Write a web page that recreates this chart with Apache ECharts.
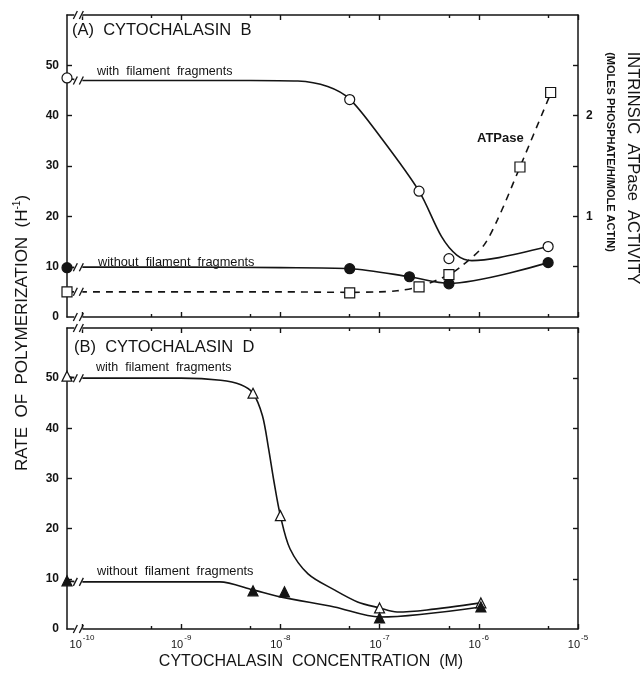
<!DOCTYPE html>
<html><head><meta charset="utf-8">
<script src="https://cdn.jsdelivr.net/npm/echarts@6/dist/echarts.min.js"></script>
<style>html,body{margin:0;padding:0;background:#fff}#c{width:643px;height:677px}</style>
</head><body><div id="c"></div>
<script>
// ---- axis data ----
const CTRL = 7.07e-11;          // zero-concentration controls, plotted on the left axis
const BREAK_X = 9.2e-11;        // where the "//" axis break sits
const X_MAX = 1e-5;
const xDecades = [1e-10, 1e-9, 1e-8, 1e-7, 1e-6, 1e-5];
const xFives = [5e-10, 5e-9, 5e-8, 5e-7, 5e-6];
const xTickExponents = ['-10', '-9', '-8', '-7', '-6', '-5'];
const yLeftTicks = [10, 20, 30, 40, 50];
const yLeftLabels = [0, 10, 20, 30, 40, 50];
const yRightTicksA = [0.5, 1, 1.5, 2, 2.5];
const yRightLabelsA = [1, 2];

// ---- Panel A: cytochalasin B ----
const aWithCurveX = [CTRL, 1e-10, 1e-9, 5e-9, 1.5e-8, 3e-8, 5e-8, 1e-7, 2.5e-7, 4.2e-7, 6e-7, 8.5e-7, 1.6e-6, 5e-6];
const aWithCurveY = [47.5, 47, 47, 47, 46.9, 45.8, 43.3, 36, 25, 16, 12.3, 11.2, 11.8, 14];
const aWithPtsX = [CTRL, 5e-8, 2.5e-7, 5e-7, 5e-6];
const aWithPtsY = [47.5, 43.2, 25, 11.6, 14];

const aWithoutCurveX = [CTRL, 1e-10, 1e-9, 1e-8, 5e-8, 2e-7, 5e-7, 5e-6];
const aWithoutCurveY = [9.8, 9.9, 9.9, 9.8, 9.6, 8.0, 6.7, 10.8];
const aWithoutPtsX = [CTRL, 5e-8, 2e-7, 5e-7, 5e-6];
const aWithoutPtsY = [9.8, 9.6, 8.0, 6.6, 10.8];

// ATPase (right axis, moles phosphate / h / mole actin)
const atpCurveX = [CTRL, 1e-10, 1e-9, 1e-8, 5e-8, 1e-7, 1.5e-7, 2.5e-7, 5e-7, 6.6e-7, 1.1e-6, 1.55e-6, 2.6e-6, 5.3e-6];
const atpCurveY = [0.25, 0.25, 0.25, 0.25, 0.245, 0.25, 0.26, 0.30, 0.42, 0.50, 0.70, 0.97, 1.49, 2.22];
const atpPtsX = [CTRL, 5e-8, 2.5e-7, 5e-7, 2.6e-6, 5.3e-6];
const atpPtsY = [0.25, 0.24, 0.30, 0.42, 1.49, 2.23];

// ---- Panel B: cytochalasin D ----
const bWithCurveX = [CTRL, 1e-10, 1e-9, 2.5e-9, 4e-9, 5.3e-9, 6.6e-9, 7.6e-9, 8.6e-9, 1e-8, 1.25e-8, 1.9e-8, 3.5e-8, 6e-8, 1e-7, 1.5e-7, 3e-7, 1.05e-6];
const bWithCurveY = [50.3, 50, 50, 49.6, 48.7, 47, 42.5, 36, 29.5, 22.6, 16, 11, 7.8, 5.4, 4.2, 3.4, 3.8, 5.2];
const bWithPtsX = [CTRL, 5.3e-9, 1e-8, 1e-7, 1.05e-6];
const bWithPtsY = [50.4, 47, 22.6, 4.2, 5.2];

const bWithoutCurveX = [CTRL, 1e-10, 1e-9, 2.45e-9, 5.3e-9, 1e-8, 3.5e-8, 1e-7, 1.05e-6];
const bWithoutCurveY = [9.6, 9.4, 9.4, 9.4, 7.8, 6.4, 4.4, 2.4, 4.4];
const bWithoutPtsX = [CTRL, 5.3e-9, 1.1e-8, 1e-7, 1.05e-6];
const bWithoutPtsY = [9.6, 7.6, 7.4, 2.2, 4.4];

// ---- build ----
const FONT = 'Liberation Sans, Arial, Helvetica, sans-serif';
const INK = '#141414';
const L = Math.log10;
const pts = (xs, ys) => xs.map((x, i) => [L(x), ys[i]]);
const XMIN = L(CTRL), XMAX = L(X_MAX);

function xAxis(grid, pos, ticks, len, opts) {
  return Object.assign({
    type: 'value', gridIndex: grid, position: pos, min: XMIN, max: XMAX,
    axisLine: { show: true, onZero: false, lineStyle: { color: INK, width: 1.5 } },
    axisTick: { show: true, inside: true, length: len, customValues: ticks.map(L), lineStyle: { color: INK, width: 1.4 } },
    axisLabel: { show: false },
    splitLine: { show: false }
  }, opts || {});
}
function yAxis(grid, pos, min, max, interval, ticks, labels, extra) {
  return Object.assign({
    type: 'value', gridIndex: grid, position: pos, min: min, max: max, interval: interval,
    axisLine: { show: true, onZero: false, lineStyle: { color: INK, width: 1.5 } },
    axisTick: { show: true, inside: true, length: 5, customValues: ticks, lineStyle: { color: INK, width: 1.4 } },
    axisLabel: labels ? { show: true, customValues: labels, color: INK, fontFamily: FONT, fontWeight: 'bold', fontSize: 12, margin: 8 } : { show: false },
    splitLine: { show: false }
  }, extra || {});
}

const xLabelCfg = {
  show: true, customValues: xDecades.map(L), margin: 5, color: INK, fontFamily: FONT,
  formatter: function (v) {
    const i = xDecades.findIndex(d => Math.abs(L(d) - v) < 1e-6);
    return '{b|10}{s|' + xTickExponents[i] + '}';
  },
  rich: {
    b: { fontSize: 11, fontFamily: FONT, color: INK, lineHeight: 16, verticalAlign: 'bottom' },
    s: { fontSize: 8, fontFamily: FONT, color: INK, lineHeight: 16, verticalAlign: 'top', padding: [0, 0, 0, 1] }
  }
};

const lineS = (xi, yi, xs, ys, dashed) => ({
  type: 'line', xAxisIndex: xi, yAxisIndex: yi, data: pts(xs, ys),
  smooth: 0.3, symbol: 'none', showSymbol: false, silent: true, z: 2,
  lineStyle: { color: INK, width: 1.6, type: dashed ? [7, 6] : 'solid' }
});
const dotS = (xi, yi, xs, ys, symbol, size, filled) => ({
  type: 'scatter', xAxisIndex: xi, yAxisIndex: yi, data: pts(xs, ys), symbol: symbol, symbolSize: size,
  clip: false, silent: true, z: 5,
  itemStyle: { color: filled ? INK : '#fff', borderColor: INK, borderWidth: 1.2, opacity: 1 }
});

const chart = echarts.init(document.getElementById('c'), null, { renderer: 'canvas' });
chart.setOption({
  animation: false,
  backgroundColor: '#fff',
  grid: [
    { left: 67, top: 15, width: 511, height: 302 },
    { left: 67, top: 328, width: 511, height: 301 }
  ],
  xAxis: [
    xAxis(0, 'bottom', xDecades, 5),
    xAxis(0, 'bottom', xFives, 3, { axisLine: { show: false, onZero: false } }),
    xAxis(0, 'top', xDecades, 5),
    xAxis(0, 'top', xFives, 3, { axisLine: { show: false, onZero: false } }),
    xAxis(1, 'bottom', xDecades, 5, { axisLabel: xLabelCfg }),
    xAxis(1, 'bottom', xFives, 3, { axisLine: { show: false, onZero: false } }),
    xAxis(1, 'top', xDecades, 5),
    xAxis(1, 'top', xFives, 3, { axisLine: { show: false, onZero: false } })
  ],
  yAxis: [
    yAxis(0, 'left', 0, 60, 10, yLeftTicks, yLeftLabels),
    yAxis(0, 'right', 0, 3, 0.5, yRightTicksA, yRightLabelsA, {}),
    yAxis(1, 'left', 0, 60, 10, yLeftTicks, yLeftLabels),
    yAxis(1, 'right', 0, 60, 10, yLeftTicks, null)
  ],
  series: [
    lineS(0, 0, aWithCurveX, aWithCurveY, false),
    lineS(0, 0, aWithoutCurveX, aWithoutCurveY, false),
    lineS(0, 1, atpCurveX, atpCurveY, true),
    dotS(0, 0, aWithPtsX, aWithPtsY, 'circle', 10, false),
    dotS(0, 0, aWithoutPtsX, aWithoutPtsY, 'circle', 10, true),
    dotS(0, 1, atpPtsX, atpPtsY, 'rect', 10, false),
    lineS(4, 2, bWithCurveX, bWithCurveY, false),
    lineS(4, 2, bWithoutCurveX, bWithoutCurveY, false),
    dotS(4, 2, bWithPtsX, bWithPtsY, 'triangle', 10, false),
    dotS(4, 2, bWithoutPtsX, bWithoutPtsY, 'triangle', 10, true)
  ]
});

// ---- decorations: text & axis breaks ----
function brk(p) {
  const px = p[0], py = p[1];
  return [
    { type: 'rect', shape: { x: px - 4, y: py - 2, width: 8, height: 4 }, style: { fill: '#fff' }, z: 100 },
    { type: 'line', shape: { x1: px - 5, y1: py + 4, x2: px - 1, y2: py - 4 }, style: { stroke: INK, lineWidth: 1.3 }, z: 101 },
    { type: 'line', shape: { x1: px + 1, y1: py + 4, x2: px + 5, y2: py - 4 }, style: { stroke: INK, lineWidth: 1.3 }, z: 101 }
  ];
}
const bx = L(BREAK_X);
const pA = v => chart.convertToPixel({ xAxisIndex: 0, yAxisIndex: 0 }, [bx, v]);
const pAr = v => chart.convertToPixel({ xAxisIndex: 0, yAxisIndex: 1 }, [bx, v]);
const pB = v => chart.convertToPixel({ xAxisIndex: 4, yAxisIndex: 2 }, [bx, v]);
let breaks = [];
[pA(60), pA(0), pA(aWithCurveY[1]), pA(aWithoutCurveY[1]), pAr(atpCurveY[1]),
 pB(60), pB(0), pB(bWithCurveY[1]), pB(bWithoutCurveY[1])].forEach(p => { breaks = breaks.concat(brk(p)); });

function txt(x, y, text, size, styleExtra, elExtra) {
  return Object.assign({
    type: 'text', x: x, y: y, z: 110,
    style: Object.assign({ text: text, fontSize: size, fontFamily: FONT, fill: INK, align: 'left', verticalAlign: 'middle' }, styleExtra || {})
  }, elExtra || {});
}

const texts = [
  txt(72, 30, '(A)  CYTOCHALASIN  B', 16.5),
  txt(97, 72, 'with  filament  fragments', 12.5),
  txt(98, 262, 'without  filament  fragments', 12.8),
  txt(477, 138, 'ATPase', 13, { fontWeight: 'bold' }),
  txt(74, 347, '(B)  CYTOCHALASIN  D', 16.5),
  txt(96, 368, 'with  filament  fragments', 12.5),
  txt(97, 571, 'without  filament  fragments', 12.8),
  txt(311, 662, 'CYTOCHALASIN  CONCENTRATION  (M)', 16, { align: 'center' }),
  txt(22, 333, 'RATE  OF  POLYMERIZATION  (H{s|-1})', 17, {
    align: 'center',
    rich: { s: { fontSize: 10, fontFamily: FONT, fill: INK, verticalAlign: 'top', lineHeight: 20 } }
  }, { rotation: Math.PI / 2 }),
  txt(633, 168, 'INTRINSIC  ATPase  ACTIVITY', 16.5, { align: 'center' }, { rotation: -Math.PI / 2 }),
  txt(610, 152, '(MOLES PHOSPHATE/H/MOLE ACTIN)', 11, { align: 'center', fontWeight: 'bold', fontFamily: 'Liberation Sans Narrow, ' + FONT }, { rotation: -Math.PI / 2 })
];
chart.setOption({ graphic: breaks.concat(texts) });
</script>
</body></html>
